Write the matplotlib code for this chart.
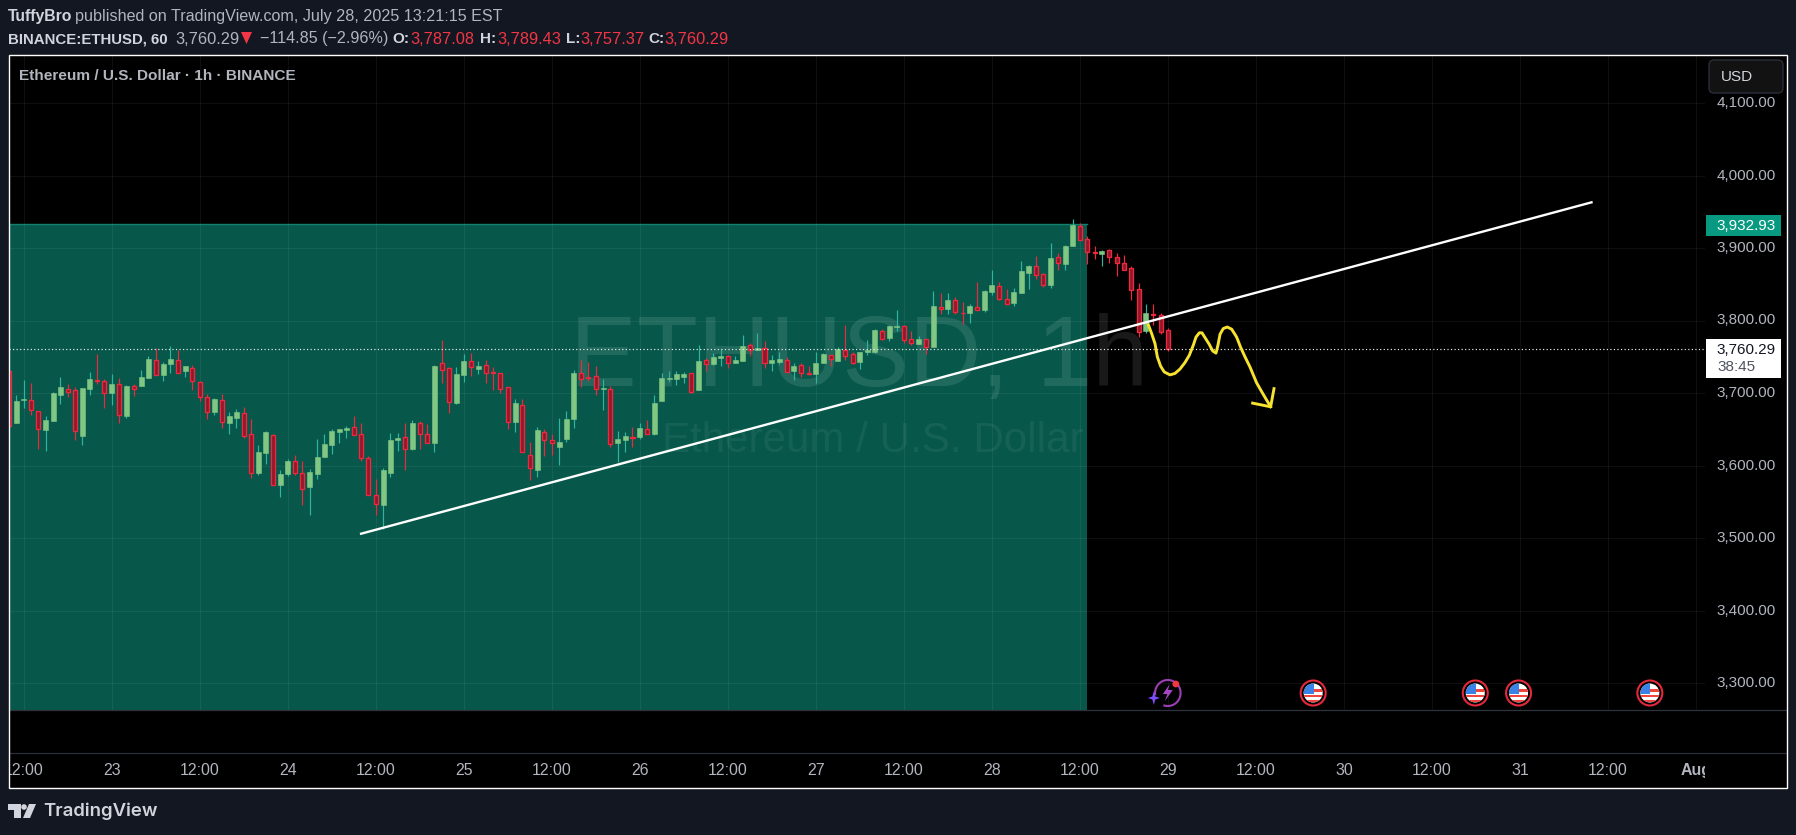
import numpy as np
import matplotlib
matplotlib.use('Agg')
import matplotlib.pyplot as plt
from matplotlib.patches import Rectangle, Circle, Polygon, FancyBboxPatch, Arc

W, H = 1796, 835

# Hourly candles, hour 0 = Jul 23 00:00
first_hour = -14
opens = [3730, 3659, 3690, 3691, 3675, 3649, 3661, 3697, 3706, 3704, 3641, 3705, 3718, 3717,
         3700, 3712, 3668, 3709, 3710, 3721, 3746, 3725, 3740, 3746, 3730, 3735, 3715, 3695, 3674, 3691,
         3659, 3665, 3672, 3643, 3590, 3617, 3642, 3573, 3588, 3606, 3590, 3570, 3588, 3612, 3628, 3646, 3649, 3653,
         3643, 3611, 3559, 3545, 3590, 3635, 3639, 3623, 3658, 3643, 3631, 3741, 3734, 3686, 3725, 3744, 3733, 3738,
         3729, 3727, 3708, 3660, 3684, 3615, 3594, 3646, 3635, 3625, 3636, 3664, 3727, 3722, 3723, 3705, 3706, 3631,
         3635, 3640, 3639, 3650, 3643, 3689, 3719, 3719, 3722, 3727, 3704, 3745, 3740, 3748, 3751, 3741, 3744, 3766,
         3760, 3762, 3741, 3743, 3746, 3730, 3738, 3728, 3726, 3741, 3752, 3744, 3760, 3754, 3743, 3756, 3756, 3786,
         3776, 3791, 3792, 3774, 3767, 3774, 3763, 3819, 3816, 3828, 3811, 3810, 3819, 3814, 3839, 3848, 3830, 3824,
         3838, 3865, 3875, 3864, 3849, 3887, 3878, 3903, 3931, 3913, 3894, 3892, 3897, 3888, 3880, 3872, 3843, 3785,
         3809, 3807, 3787.08]
closes = [3655, 3689, 3692, 3676, 3651, 3663, 3700, 3708, 3702, 3648, 3707, 3719, 3717, 3700,
          3712, 3670, 3710, 3706, 3722, 3747, 3725, 3740, 3747, 3728, 3737, 3716, 3695, 3674, 3692, 3660,
          3668, 3674, 3641, 3590, 3619, 3646, 3573, 3588, 3606, 3589, 3568, 3591, 3612, 3630, 3647, 3650, 3652, 3642,
          3611, 3560, 3547, 3594, 3635, 3638, 3623, 3659, 3644, 3631, 3737, 3732, 3688, 3726, 3744, 3736, 3737, 3728,
          3727, 3706, 3660, 3686, 3619, 3596, 3649, 3635, 3631, 3632, 3664, 3728, 3719, 3721, 3705, 3707, 3629, 3636,
          3641, 3638, 3652, 3644, 3686, 3721, 3721, 3726, 3726, 3702, 3744, 3740, 3750, 3751, 3742, 3745, 3765, 3760,
          3762, 3742, 3745, 3747, 3729, 3737, 3728, 3726, 3741, 3754, 3747, 3761, 3751, 3742, 3757, 3760, 3787, 3774,
          3792, 3792, 3773, 3769, 3774, 3764, 3820, 3816, 3828, 3812, 3810, 3820, 3815, 3841, 3849, 3829, 3823, 3839,
          3868, 3875, 3863, 3849, 3886, 3880, 3903, 3932, 3911, 3894, 3893, 3896, 3887, 3880, 3870, 3842, 3784, 3810,
          3808, 3784, 3760.29]
highs = [3733, 3697, 3718, 3714, 3675, 3668, 3701, 3722, 3712, 3708, 3707, 3729, 3754, 3719,
         3726, 3721, 3711, 3712, 3732, 3751, 3762, 3743, 3765, 3759, 3737, 3739, 3717, 3699, 3693, 3699,
         3674, 3678, 3681, 3664, 3628, 3647, 3643, 3594, 3609, 3614, 3606, 3595, 3636, 3643, 3650, 3650, 3654, 3668,
         3659, 3613, 3581, 3596, 3645, 3645, 3659, 3663, 3661, 3657, 3739, 3773, 3736, 3736, 3754, 3755, 3744, 3745,
         3736, 3728, 3708, 3692, 3692, 3632, 3653, 3650, 3643, 3665, 3675, 3732, 3745, 3743, 3737, 3719, 3710, 3647,
         3646, 3653, 3659, 3663, 3697, 3728, 3730, 3730, 3729, 3728, 3766, 3748, 3755, 3761, 3752, 3751, 3780, 3769,
         3783, 3772, 3752, 3757, 3750, 3741, 3741, 3737, 3757, 3755, 3752, 3763, 3794, 3757, 3757, 3773, 3788, 3788,
         3794, 3814, 3794, 3785, 3778, 3775, 3841, 3838, 3838, 3832, 3825, 3823, 3853, 3842, 3870, 3853, 3843, 3845,
         3882, 3877, 3889, 3865, 3907, 3893, 3904, 3940, 3934, 3917, 3903, 3897, 3899, 3893, 3890, 3875, 3852, 3823,
         3823, 3810, 3789.43]
lows = [3655, 3659, 3679, 3670, 3623, 3620, 3661, 3685, 3694, 3635, 3628, 3697, 3713, 3679,
        3683, 3659, 3665, 3696, 3710, 3721, 3725, 3717, 3728, 3728, 3722, 3704, 3689, 3664, 3670, 3652,
        3643, 3652, 3638, 3583, 3587, 3602, 3573, 3556, 3585, 3587, 3545, 3532, 3581, 3612, 3616, 3631, 3638, 3642,
        3606, 3560, 3532, 3512, 3584, 3620, 3594, 3621, 3623, 3631, 3619, 3714, 3672, 3685, 3715, 3723, 3726, 3714,
        3704, 3700, 3650, 3646, 3619, 3580, 3584, 3613, 3614, 3601, 3632, 3652, 3708, 3717, 3697, 3676, 3625, 3605,
        3619, 3625, 3636, 3644, 3642, 3689, 3715, 3711, 3714, 3700, 3704, 3730, 3739, 3737, 3734, 3741, 3744, 3751,
        3759, 3734, 3730, 3740, 3729, 3718, 3722, 3725, 3714, 3741, 3737, 3744, 3745, 3740, 3733, 3752, 3755, 3773,
        3772, 3785, 3769, 3766, 3767, 3754, 3763, 3809, 3809, 3809, 3795, 3796, 3814, 3812, 3835, 3828, 3823, 3820,
        3838, 3843, 3857, 3846, 3845, 3870, 3870, 3903, 3911, 3878, 3885, 3875, 3879, 3861, 3870, 3828, 3777, 3783,
        3794, 3781, 3757.37]

# Price scale, day labels, drawings
price_ticks = [3300, 3400, 3500, 3600, 3700, 3800, 3900, 4000, 4100]
time_hours = [-12, 0, 12, 24, 36, 48, 60, 72, 84, 96, 108, 120, 132, 144, 156, 168, 180, 192, 204, 216]
time_labels = ['12:00', '23', '12:00', '24', '12:00', '25', '12:00', '26', '12:00', '27', '12:00', '28',
               '12:00', '29', '12:00', '30', '12:00', '31', '12:00', 'Aug']
last_price = 3760.29
box_top = 3932.93
box_end_hour = 132.9
trend_hours = [33.85, 201.9]
trend_prices = [3505.5, 3963.4]
curve_hours = [141.33, 141.78, 142.24, 142.55, 143.0, 143.5, 144.28, 144.96, 145.64, 146.32, 146.91, 147.46,
               147.82, 148.28, 148.64, 149.14, 149.64, 150.1, 150.55, 150.82, 151.1, 151.55, 152.09, 152.69,
               153.37, 153.91, 154.5, 155.18, 156.09, 157.0, 158.0]
curve_prices = [3794, 3782, 3768, 3750, 3737, 3729, 3725, 3727, 3733, 3742, 3752, 3766, 3777, 3783, 3783, 3775,
                3767, 3758, 3755, 3766, 3781, 3789, 3791, 3788, 3777, 3763, 3750, 3736, 3714, 3698, 3681]
arrow_hours = [158.46, 158.0, 155.55]
arrow_prices = [3706, 3681, 3686]
flag_hours = [163.8, 185.9, 191.8, 209.7]
bolt_hour = 143.85

BG = '#131722'
GREY = '#b2b5be'
LIGHT = '#d1d4dc'
RED = '#f23645'
UP = '#81c784'
UP_WICK = '#2fb59d'
DOWN_FILL = '#8c1a2b'
DOWN_EDGE = '#f0283f'
FONT = 'Liberation Sans'
plt.rcParams['font.family'] = [FONT, 'DejaVu Sans']


def px_axes(fig, x0, y0, x1, y1, **kw):
    return fig.add_axes([x0 / W, 1 - y1 / H, (x1 - x0) / W, (y1 - y0) / H], **kw)


fig = plt.figure(figsize=(W / 100, H / 100), dpi=100, facecolor=BG)

# black page behind panes
back = px_axes(fig, 8.5, 55, 1787, 788, facecolor='black')
back.set_xticks([])
back.set_yticks([])
for s in back.spines.values():
    s.set_visible(False)

# main pane
PANE_L, PANE_R, PANE_T, PANE_B = 8.5, 1705, 55, 710
ax = px_axes(fig, PANE_L, PANE_T, PANE_R, PANE_B, facecolor='black')
hour_at = lambda px: (px - 111.7) / 7.335
price_at = lambda py: 3700 + (393 - py) / 0.725
ax.set_xlim(hour_at(PANE_L), hour_at(PANE_R))
ax.set_ylim(price_at(PANE_B), price_at(PANE_T))
for s in ax.spines.values():
    s.set_visible(False)
ax.set_xticks(time_hours)
ax.set_yticks(price_ticks)
ax.tick_params(length=0, labelbottom=False, labelleft=False)
ax.grid(color='white', alpha=0.06, lw=0.8)

# overlay in pixel coordinates for the decorations
ov = px_axes(fig, 0, 0, W, H, facecolor='none', zorder=10)
ov.set_xlim(0, W)
ov.set_ylim(H, 0)
ov.axis('off')

# zone
ax.fill_between([ax.get_xlim()[0], box_end_hour], ax.get_ylim()[0], box_top, color='#07584b', lw=0, zorder=1)
ax.plot([ax.get_xlim()[0], box_end_hour], [box_top, box_top], color='#12806c', lw=1, zorder=1.1)

# watermark
ax.text(570, 386, 'ETHUSD, 1h', transform=ov.transData, color='white', alpha=0.1, fontsize=72,
        ha='left', va='baseline', zorder=1.2)
ax.text(662, 452, 'Ethereum / U.S. Dollar', transform=ov.transData, color='white', alpha=0.06, fontsize=30.3,
        ha='left', va='baseline', zorder=1.2)

# candles
hours = np.arange(first_hour, first_hour + len(opens))
o, c, hi, lo = map(np.array, (opens, closes, highs, lows))
up = c >= o
ax.vlines(hours[up], lo[up], hi[up], color=UP_WICK, lw=0.85, zorder=4)
ax.vlines(hours[~up], lo[~up], hi[~up], color=DOWN_EDGE, lw=0.85, zorder=4)
ax.bar(hours[up], (c - o)[up], 0.68, bottom=o[up], color=UP, edgecolor=UP, lw=0.4, zorder=5)
ax.bar(hours[~up], (c - o)[~up], 0.55, bottom=o[~up], color=DOWN_FILL, edgecolor=DOWN_EDGE, lw=0.95, zorder=5)

# last price line
ax.plot(ax.get_xlim(), [last_price, last_price], color='#f0f0f0', lw=0.85,
        linestyle=(0, (1, 2)), dash_capstyle='butt', zorder=6)

# drawings
ax.plot(trend_hours, trend_prices, color='white', lw=1.7, zorder=7, solid_capstyle='butt')
ax.plot(curve_hours, curve_prices, color='#f7e22e', lw=2.1, zorder=8, solid_joinstyle='round')
ax.plot(arrow_hours, arrow_prices, color='#f7e22e', lw=2.1, zorder=8)

# pane separators
ov.plot([8.5, 1787], [710, 710], color='#2f323c', lw=0.9)
ov.plot([8.5, 1787], [753, 753], color='#2a2e39', lw=0.9)

# time scale
ax_t = px_axes(fig, PANE_L, 754, PANE_R, 787, facecolor='black')
ax_t.set_xlim(ax.get_xlim())
ax_t.set_ylim(1, 0)
ax_t.axis('off')
for h, lab in zip(time_hours, time_labels):
    ax_t.text(h, 0.5, lab, ha='center', va='center', color=GREY, fontsize=11.4,
              fontweight='bold' if lab == 'Aug' else 'normal', clip_on=True)

# price labels
for p in price_ticks:
    y = ax.transData.transform((0, p))[1]
    ov.text(1775.5, H - y, f'{p:,.2f}', ha='right', va='center', color=GREY, fontsize=11)

ov.add_patch(Rectangle((1706, 215), 75, 20.5, color='#089981', lw=0))
ov.text(1775.5, 225.5, f'{box_top:,.2f}', ha='right', va='center', color='white', fontsize=11)
ov.add_patch(Rectangle((1706, 339), 75, 39, color='white', lw=0))
ov.text(1775.5, 349.5, f'{last_price:,.2f}', ha='right', va='center', color='#131722', fontsize=11)
ov.text(1717, 367, '38:45', ha='left', va='center', color='#50535e', fontsize=11)

# USD button
ov.add_patch(FancyBboxPatch((1712, 63), 68, 27, boxstyle='round,pad=3,rounding_size=5',
                            fc='#121212', ec='#2a2e39', lw=1, zorder=3))
ov.text(1721, 77, 'USD', ha='left', va='center', color=LIGHT, fontsize=11, zorder=4)

# event markers
for h in flag_hours:
    cx = ax.transData.transform((h, 3300))[0]
    cy = 693
    ov.add_patch(Circle((cx, cy), 12.5, fc='black', ec='#e5283c', lw=1.5, zorder=4))
    disc = Circle((cx, cy), 9.5, fc='white', ec='none', zorder=4)
    ov.add_patch(disc)
    for dy in (-4, 1.5, 6.5):
        st = Rectangle((cx - 10, cy + dy), 20, 2.6, fc='#f0443f', ec='none', zorder=5)
        ov.add_patch(st)
        st.set_clip_path(disc)
    can = Rectangle((cx - 10, cy - 10), 10.5, 10.5, fc='#3b82e6', ec='none', zorder=6)
    ov.add_patch(can)
    can.set_clip_path(disc)

bx = ax.transData.transform((bolt_hour, 3300))[0]
by = 693
ov.add_patch(Arc((bx + 1, by), 25.5, 26, theta1=170, theta2=470, color='#9c3fb5', lw=1.5, zorder=4))
ov.add_patch(Polygon([(bx + 3, by - 9), (bx - 4, by + 1), (bx + 0.5, by + 1), (bx - 2, by + 8),
                      (bx + 6, by - 3), (bx + 1, by - 3)], fc='#a645c8', ec='none', zorder=5))
ov.add_patch(Polygon([(bx - 13, by - 2), (bx - 11.5, by + 3.5), (bx - 7, by + 5), (bx - 11.5, by + 6.5),
                      (bx - 13, by + 12), (bx - 14.5, by + 6.5), (bx - 19, by + 5), (bx - 14.5, by + 3.5)],
                     fc='#7c4dff', ec='none', zorder=5))
ov.add_patch(Circle((bx + 9, by - 9), 3.4, fc='#f23645', ec='none', zorder=6))

# chart title in the pane
ov.text(19, 76.5, 'Ethereum / U.S. Dollar · 1h · BINANCE', ha='left', va='center', color=GREY,
        fontsize=11.1, fontweight='bold')

# publish header
ov.text(8, 17, 'TuffyBro', ha='left', va='center', color=LIGHT, fontsize=11.3, fontweight='bold')
ov.text(75, 17, 'published on TradingView.com, July 28, 2025 13:21:15 EST', ha='left', va='center',
        color=GREY, fontsize=11.6)
row = [(8, 'BINANCE:ETHUSD, 60', LIGHT, 'bold', 10.8), (175, '3,760.29', GREY, 'normal', 11.8),
       (260, '−114.85 (−2.96%)', GREY, 'normal', 11.6), (392, 'O:', LIGHT, 'bold', 11), (410, '3,787.08', RED, 'normal', 11.8),
       (480, 'H:', LIGHT, 'bold', 11), (497, '3,789.43', RED, 'normal', 11.8), (566, 'L:', LIGHT, 'bold', 11),
       (580, '3,757.37', RED, 'normal', 11.8), (648, 'C:', LIGHT, 'bold', 11), (664, '3,760.29', RED, 'normal', 11.8)]
for x, s, col, wt, fs in row:
    ov.text(x, 39, s, ha='left', va='center', color=col, fontsize=fs, fontweight=wt)
ov.add_patch(Polygon([(241, 32), (252, 32), (246.5, 44)], fc=RED, ec='none'))

# frame
ov.add_patch(Rectangle((8.5, 55), 1778.5, 733, fc='none', ec='white', lw=1, zorder=9))

# TradingView logo
ov.add_patch(Polygon([(8, 804), (20.5, 804), (20.5, 818), (14, 818), (14, 810), (8, 810)], fc=LIGHT, ec='none'))
ov.add_patch(Circle((24, 807), 2.8, fc=LIGHT, ec='none'))
ov.add_patch(Polygon([(29, 804), (36, 804), (30, 818), (23, 818)], fc=LIGHT, ec='none'))
ov.text(43.5, 811, 'TradingView', ha='left', va='center', color=LIGHT, fontsize=13.4, fontfamily='Inter',
        fontweight='semibold')

fig.savefig('out.png', dpi=100, facecolor=BG)
